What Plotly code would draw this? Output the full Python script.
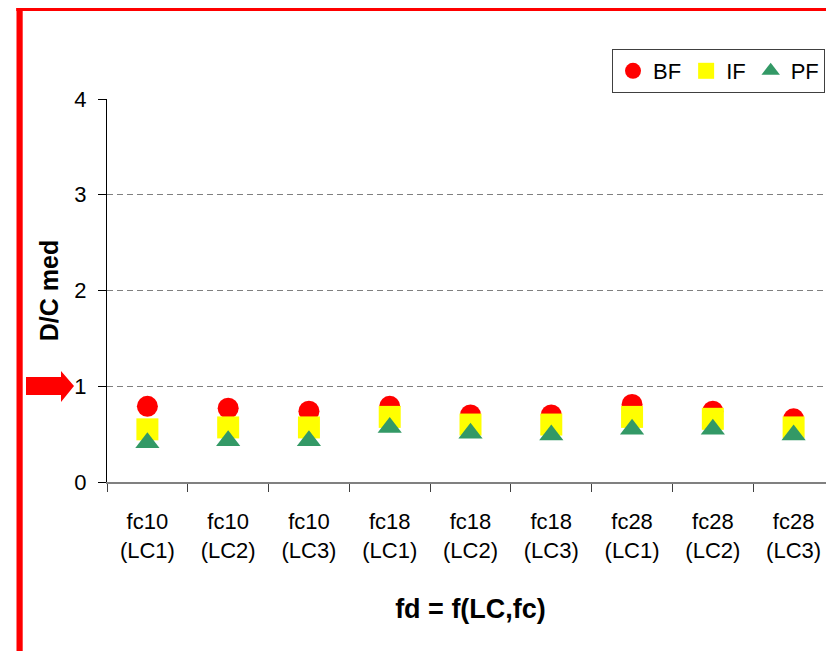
import plotly.graph_objects as go

# ---- data ----
categories = ["fc10<br>(LC1)", "fc10<br>(LC2)", "fc10<br>(LC3)",
              "fc18<br>(LC1)", "fc18<br>(LC2)", "fc18<br>(LC3)",
              "fc28<br>(LC1)", "fc28<br>(LC2)", "fc28<br>(LC3)"]
bf_values = [0.79, 0.77, 0.74, 0.79, 0.70, 0.70, 0.81, 0.74, 0.66]
if_values = [0.55, 0.57, 0.57, 0.68, 0.60, 0.60, 0.68, 0.66, 0.57]
pf_values = [0.41, 0.43, 0.43, 0.57, 0.51, 0.49, 0.55, 0.55, 0.49]
y_tick_values = [0, 1, 2, 3, 4]
y_tick_labels = ["0", "1", "2", "3", "4"]

# ---- geometry (pixels in the 834x651 window; page body has an 8px margin) ----
OFF = 8
WIN_W, WIN_H = 834, 651
W, H = WIN_W - OFF, WIN_H - OFF
PLOT_L, PLOT_R, PLOT_T, PLOT_B = 107, 834, 99, 482
ML, MR, MT, MB = PLOT_L - OFF, WIN_W - PLOT_R, PLOT_T - OFF, WIN_H - PLOT_B
PW = PLOT_R - PLOT_L
PH = PLOT_B - PLOT_T

def px(x):
    return (x - PLOT_L) / PW

def py(y):
    return (PLOT_B - y) / PH

FONT = "Liberation Sans, Arial, sans-serif"

fig = go.Figure()
fig.add_trace(go.Scatter(x=categories, y=bf_values, mode="markers", name="BF",
                         marker=dict(symbol="circle", size=21, color="#FF0000")))
fig.add_trace(go.Scatter(x=categories, y=if_values, mode="markers", name="IF",
                         marker=dict(symbol="square", size=22, color="#FFFF00")))
fig.add_trace(go.Scatter(x=categories, y=pf_values, mode="markers", name="PF",
                         marker=dict(symbol="triangle-up", size=21, color="#339966")))

shapes = []
# red left bar
shapes.append(dict(type="rect", xref="paper", yref="paper",
                   x0=px(16.5), x1=px(22.7), y0=py(WIN_H + 2), y1=py(-2),
                   fillcolor="#FF0000", line=dict(width=0), layer="above"))
# red top bar
shapes.append(dict(type="rect", xref="paper", yref="paper",
                   x0=px(16.5), x1=px(WIN_W + 2), y0=py(11), y1=py(5.3),
                   fillcolor="#FF0000", line=dict(width=0), layer="above"))
# tab at top-left
shapes.append(dict(type="rect", xref="paper", yref="paper",
                   x0=px(16.5), x1=px(209.3), y0=py(11), y1=py(-2),
                   fillcolor="#FF0000", line=dict(width=0), layer="above"))
shapes.append(dict(type="rect", xref="paper", yref="paper",
                   x0=px(22.7), x1=px(204), y0=py(3.3), y1=py(-2),
                   fillcolor="#FFFFFF", line=dict(width=0), layer="above"))
# red arrow pointing at y = 1
ax0, ax1, ax2 = 26, 61, 74
ay = 386
path = (f"M {px(ax0)},{py(ay-9)} L {px(ax1)},{py(ay-9)} L {px(ax1)},{py(ay-15)} "
        f"L {px(ax2)},{py(ay)} L {px(ax1)},{py(ay+16)} L {px(ax1)},{py(ay+9)} "
        f"L {px(ax0)},{py(ay+9)} Z")
shapes.append(dict(type="path", xref="paper", yref="paper", path=path,
                   fillcolor="#FF0000", line=dict(width=0), layer="above"))

fig.update_layout(
    width=W, height=H,
    margin=dict(l=ML, r=MR, t=MT, b=MB, pad=0, autoexpand=False),
    paper_bgcolor="white", plot_bgcolor="white",
    font=dict(family=FONT, size=22, color="black"),
    showlegend=True,
    legend=dict(orientation="h", x=px(612), y=py(49), xanchor="left", yanchor="top",
                bgcolor="white", bordercolor="#404040", borderwidth=1,
                font=dict(family=FONT, size=22, color="black"),
                itemwidth=30, tracegroupgap=0),
    shapes=shapes,
)

fig.update_xaxes(
    type="category", range=[-0.5, len(categories) - 0.5],
    showline=True, linecolor="#808080", linewidth=2,
    ticks="outside", ticklen=8, tickcolor="#404040", tickwidth=1,
    tickson="boundaries", showgrid=False, zeroline=False,
    tickfont=dict(family=FONT, size=22, color="black"),
    ticklabelstandoff=19,
    title=dict(text="<b>fd = f(LC,fc)</b>", font=dict(family=FONT, size=27, color="black"),
               standoff=37),
)
fig.update_yaxes(
    range=[0, 4], tickvals=y_tick_values, ticktext=y_tick_labels,
    showline=True, linecolor="black", linewidth=1,
    ticks="outside", ticklen=8, tickcolor="black", tickwidth=1,
    showgrid=True, gridcolor="#808080", gridwidth=1, griddash="6px,4px",
    zeroline=False,
    tickfont=dict(family=FONT, size=22, color="black"),
    ticklabelstandoff=7,
    title=dict(text="<b>D/C med</b>", font=dict(family=FONT, size=25, color="black"),
               standoff=8),
)

fig.write_html("out.html")
